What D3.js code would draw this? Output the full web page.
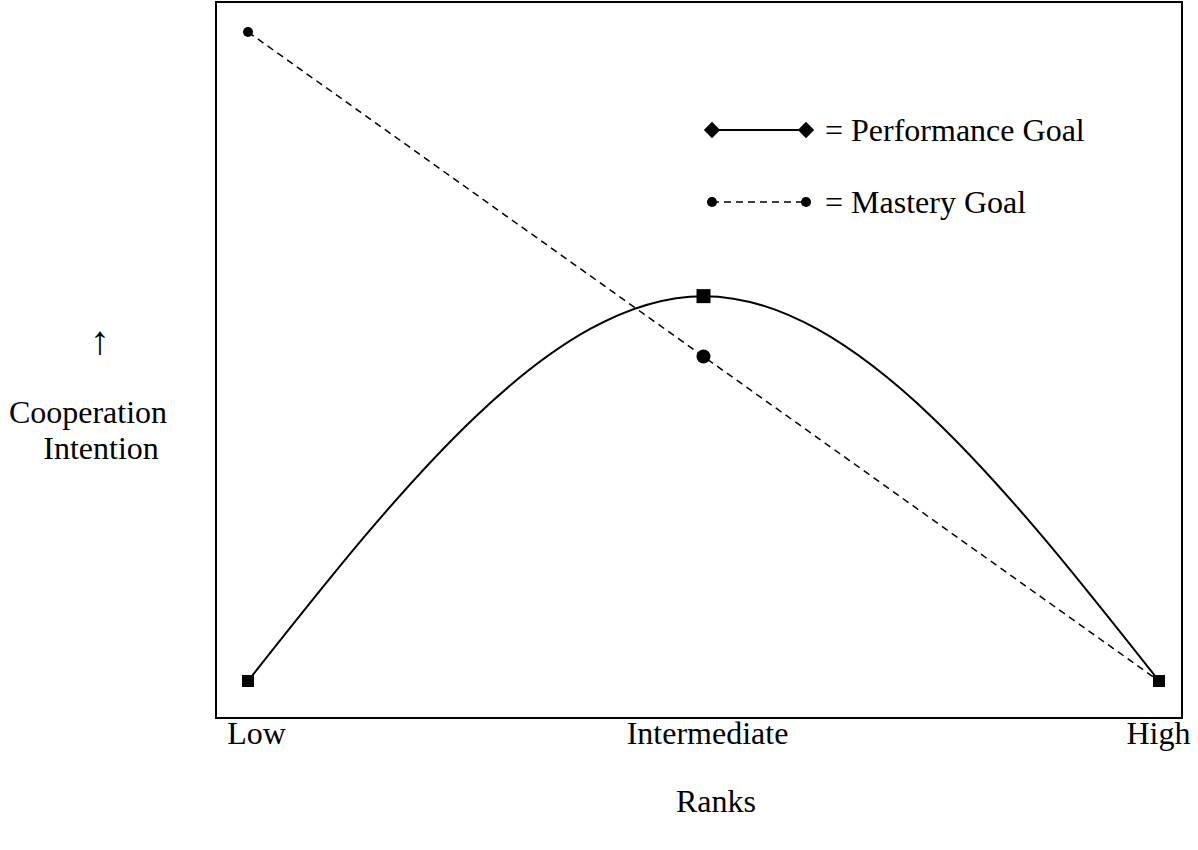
<!DOCTYPE html>
<html>
<head>
<meta charset="utf-8">
<script src="https://cdn.jsdelivr.net/npm/d3@7"></script>
<style>
  body { margin: 0; background: #fff; }
  text { font-family: "Liberation Serif", "Times New Roman", serif; fill: #000; }
</style>
</head>
<body>
<div id="chart"></div>
<script>
// data
var ranks = ["Low", "Intermediate", "High"];
var performance = [0, 5.93, 0];
var mastery = [10, 5.0, 0];
var seriesNames = ["= Performance Goal", "= Mastery Goal"];

var svgWidth = 1198;
var svgHeight = 850;

var frame = { left: 216, top: 2, right: 1182, bottom: 718 };

var svg = d3.select("#chart")
  .append("svg")
  .attr("width", svgWidth)
  .attr("height", svgHeight);

svg.append("rect")
  .attr("width", svgWidth)
  .attr("height", svgHeight)
  .attr("fill", "#fff");

var xScale = d3.scalePoint()
  .domain(ranks)
  .range([248, 1159]);

// labels sit a little off the points
var labelScale = d3.scalePoint()
  .domain(ranks)
  .range([256, 1158]);

var yScale = d3.scaleLinear()
  .domain([0, 10])
  .range([681, 32]);

// box round the plot
svg.append("rect")
  .attr("x", frame.left)
  .attr("y", frame.top)
  .attr("width", frame.right - frame.left)
  .attr("height", frame.bottom - frame.top)
  .attr("fill", "none")
  .attr("stroke", "#000")
  .attr("stroke-width", 2);

var perfData = ranks.map((r, i) => ({ rank: r, value: performance[i] }));
var mastData = ranks.map((r, i) => ({ rank: r, value: mastery[i] }));

// mastery: dashed straight line
svg.append("path")
  .datum(mastData)
  .attr("fill", "none")
  .attr("stroke", "#000")
  .attr("stroke-width", 1.5)
  .attr("stroke-dasharray", "7,5")
  .attr("d", d3.line().x(d => xScale(d.rank)).y(d => yScale(d.value)));

// performance: smooth curve
svg.append("path")
  .datum(perfData)
  .attr("fill", "none")
  .attr("stroke", "#000")
  .attr("stroke-width", 2)
  .attr("d", d3.line().curve(d3.curveNatural).x(d => xScale(d.rank)).y(d => yScale(d.value)));

// markers (the middle ones are a bit bigger)
svg.selectAll(".mcirc")
  .data(mastData.slice(0, 2))
  .enter()
  .append("circle")
  .attr("cx", d => xScale(d.rank))
  .attr("cy", d => yScale(d.value))
  .attr("r", (d, i) => i == 1 ? 7 : 5)
  .attr("fill", "#000");

svg.selectAll(".psq")
  .data(perfData)
  .enter()
  .append("path")
  .attr("transform", d => `translate(${xScale(d.rank)},${yScale(d.value)})`)
  .attr("d", (d, i) => d3.symbol(d3.symbolSquare, i == 1 ? 196 : 144)())
  .attr("fill", "#000");

// legend
var legend = svg.append("g").attr("transform", "translate(712,130)");
var rows = legend.selectAll("g")
  .data(seriesNames)
  .enter()
  .append("g")
  .attr("transform", (d, i) => `translate(0, ${i * 72})`);

rows.append("line")
  .attr("x1", 0).attr("x2", 94)
  .attr("stroke", "#000")
  .attr("stroke-width", (d, i) => i == 0 ? 2 : 1.5)
  .attr("stroke-dasharray", (d, i) => i == 0 ? null : "7,5");

rows.each(function(d, i) {
  var g = d3.select(this);
  [0, 94].forEach(function(x) {
    g.append("path")
      .attr("transform", `translate(${x},0)`)
      .attr("d", i == 0 ? d3.symbol(d3.symbolDiamond2, 170)() : d3.symbol(d3.symbolCircle, 80)())
      .attr("fill", "#000");
  });
});

rows.append("text")
  .attr("x", 113)
  .attr("y", 11)
  .attr("font-size", "32px")
  .text(d => d);

// x tick labels
var bottomAxis = d3.axisBottom(labelScale).tickSize(0).tickPadding(0);
var axisG = svg.append("g")
  .attr("transform", "translate(0, 721)")
  .call(bottomAxis);
axisG.select(".domain").remove();
axisG.selectAll("text")
  .attr("font-size", "32px")
  .attr("font-family", "Liberation Serif, Times New Roman, serif");

// axis titles
svg.append("text")
  .attr("x", 716)
  .attr("y", 812)
  .attr("text-anchor", "middle")
  .attr("font-size", "32px")
  .text("Ranks");

svg.append("text")
  .attr("x", 100)
  .attr("y", 354)
  .attr("text-anchor", "middle")
  .attr("font-size", "40px")
  .attr("font-weight", "lighter")
  .text("\u2191");

svg.append("text")
  .attr("x", 88)
  .attr("y", 423)
  .attr("text-anchor", "middle")
  .attr("font-size", "32px")
  .text("Cooperation");

svg.append("text")
  .attr("x", 101)
  .attr("y", 459)
  .attr("text-anchor", "middle")
  .attr("font-size", "32px")
  .text("Intention");
</script>
</body>
</html>
